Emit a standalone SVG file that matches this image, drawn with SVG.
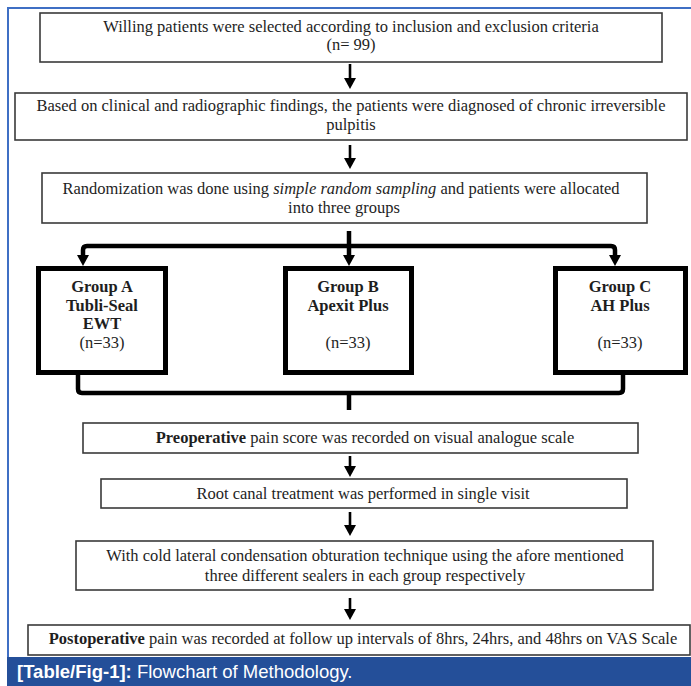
<svg xmlns="http://www.w3.org/2000/svg" width="691" height="686" viewBox="0 0 691 686">
<defs>
<style>
.box{fill:#fff;stroke:#3a3a3a;stroke-width:1.6}
.gbox{fill:#fff;stroke:#000;stroke-width:5}
.t{font-family:"Liberation Serif","Times New Roman",serif;font-size:16.5px;fill:#1e1e1e;text-anchor:middle}
.b{font-weight:bold}
.i{font-style:italic}
.line{fill:none;stroke:#000;stroke-width:2.6}
.thick{fill:none;stroke:#000;stroke-width:4.5;stroke-linejoin:round}
.head{fill:#000}
.cap{font-family:"Liberation Sans",Arial,sans-serif;font-size:18.5px;fill:#fff}
</style>
</defs>
<rect x="0" y="0" width="691" height="686" fill="#fff"/>
<g id="frame">
<path d="M8 657 V8 H691" fill="none" stroke="#3f6fc4" stroke-width="2"/>
<rect x="7" y="657" width="684" height="29" fill="#244f99"/>
<text class="cap" x="17" y="678"><tspan font-weight="bold">[Table/Fig-1]:</tspan> Flowchart of Methodology.</text>
</g>
<g id="connectors">
<line class="line" x1="350" y1="64" x2="350" y2="80"/>
<polygon class="head" points="344,78 356,78 350,89"/>
<line class="line" x1="350" y1="145" x2="350" y2="160"/>
<polygon class="head" points="344,158 356,158 350,169"/>
<path class="thick" d="M349 231 V246"/>
<path class="thick" d="M83 258 V250 Q83 246 87 246 H611 Q615 246 615 250 V258"/>
<path class="thick" d="M349 246 V258"/>
<polygon class="head" points="77,255 89,255 83,266"/>
<polygon class="head" points="343,255 355,255 349,266"/>
<polygon class="head" points="609,255 621,255 615,266"/>
<path class="thick" d="M78 374 V389 Q78 393 82 393 H619 Q623 393 623 389 V374"/>
<path class="thick" d="M349 393 V410"/>
<line class="line" x1="350" y1="456" x2="350" y2="468"/>
<polygon class="head" points="344,466 356,466 350,477"/>
<line class="line" x1="350" y1="512" x2="350" y2="527"/>
<polygon class="head" points="344,525 356,525 350,536"/>
<line class="line" x1="350" y1="598" x2="350" y2="611"/>
<polygon class="head" points="344,609 356,609 350,620"/>
</g>
<g id="n1">
<rect class="box" x="40" y="13" width="622" height="49"/>
<text class="t" x="351" y="32">Willing patients were selected according to inclusion and exclusion criteria</text>
<text class="t" x="351" y="50">(n= 99)</text>
</g>
<g id="n2">
<rect class="box" x="15" y="93" width="672" height="47"/>
<text class="t" x="351" y="111">Based on clinical and radiographic findings, the patients were diagnosed of chronic irreversible</text>
<text class="t" x="351" y="130">pulpitis</text>
</g>
<g id="n3">
<rect class="box" x="42" y="173" width="605" height="50"/>
<text class="t" x="341" y="194">Randomization was done using <tspan class="i">simple random sampling</tspan> and patients were allocated</text>
<text class="t" x="344" y="213">into three groups</text>
</g>
<g id="gA">
<rect class="gbox" x="38.5" y="268.5" width="127" height="104"/>
<text class="t b" x="102" y="292">Group A</text>
<text class="t b" x="102" y="311">Tubli-Seal</text>
<text class="t b" x="102" y="329">EWT</text>
<text class="t" x="102" y="348">(n=33)</text>
</g>
<g id="gB">
<rect class="gbox" x="285.5" y="268.5" width="126" height="104"/>
<text class="t b" x="348" y="292">Group B</text>
<text class="t b" x="348" y="311">Apexit Plus</text>
<text class="t" x="348" y="348">(n=33)</text>
</g>
<g id="gC">
<rect class="gbox" x="555.5" y="268.5" width="130" height="104"/>
<text class="t b" x="620" y="292">Group C</text>
<text class="t b" x="620" y="311">AH Plus</text>
<text class="t" x="620" y="348">(n=33)</text>
</g>
<g id="n4">
<rect class="box" x="83" y="423" width="555" height="30"/>
<text class="t" x="365" y="443"><tspan class="b">Preoperative</tspan> pain score was recorded on visual analogue scale</text>
</g>
<g id="n5">
<rect class="box" x="101" y="479" width="526" height="29"/>
<text class="t" x="363" y="499">Root canal treatment was performed in single visit</text>
</g>
<g id="n6">
<rect class="box" x="76" y="541" width="577" height="49"/>
<text class="t" x="365" y="561">With cold lateral condensation obturation technique using the afore mentioned</text>
<text class="t" x="365" y="581">three different sealers in each group respectively</text>
</g>
<g id="n7">
<rect class="box" x="28" y="625" width="662" height="30"/>
<text class="t" x="363" y="644"><tspan class="b">Postoperative</tspan> pain was recorded at follow up intervals of 8hrs, 24hrs, and 48hrs on VAS Scale</text>
</g>
</svg>
